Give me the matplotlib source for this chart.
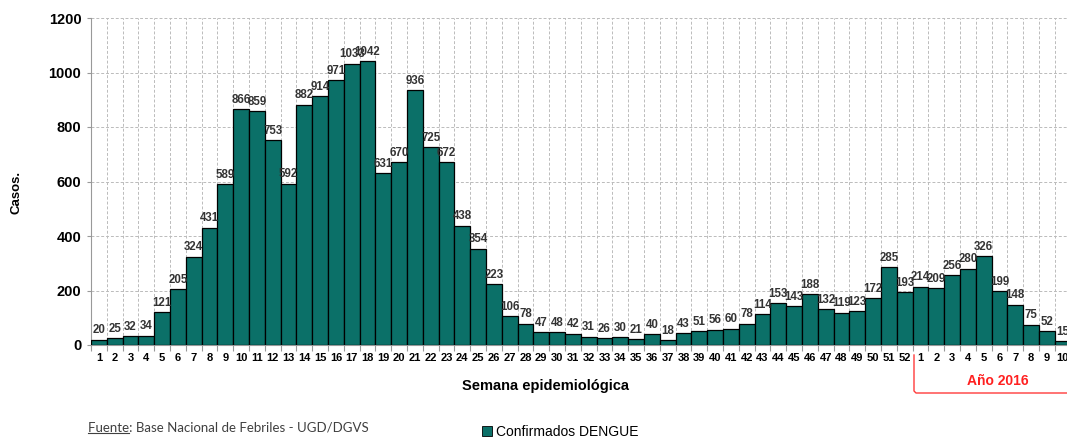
import matplotlib.pyplot as plt
from matplotlib.patches import Patch
import numpy as np

semanas = [str(i) for i in range(1, 53)] + [str(i) for i in range(1, 11)]
casos_2015 = [20, 25, 32, 34, 121, 205, 324, 431, 589, 866, 859, 753, 592, 882, 914, 971,
              1033, 1042, 631, 670, 936, 725, 672, 438, 354, 223, 106, 78, 47, 48, 42, 31,
              26, 30, 21, 40, 18, 43, 51, 56, 60, 78, 114, 153, 143, 188, 132, 119, 123,
              172, 285, 193]
casos_2016 = [214, 209, 256, 280, 326, 199, 148, 75, 52, 15]
casos = casos_2015 + casos_2016

verde = '#0b7068'
plt.rcParams['font.family'] = ['Liberation Sans', 'DejaVu Sans']

W, H = 1067, 438
fig = plt.figure(figsize=(W / 100, H / 100), dpi=100)
ax = fig.add_axes([91 / W, (H - 345) / H, 62 * 15.8 / W, (345 - 18) / H])

x = np.arange(len(casos))
ax.bar(x, casos, width=1.0, color=verde, edgecolor='black', linewidth=0.9, zorder=3)
for xi, v in zip(x, casos):
    ax.text(xi, v + 12, str(v), ha='center', va='bottom', fontsize=8.3, fontweight='bold',
            color='#333333', zorder=4)

ax.set_xlim(-0.5, len(casos) - 0.5)
ax.set_ylim(0, 1200)
ax.set_yticks(range(0, 1201, 200))
ax.set_yticklabels([str(v) for v in range(0, 1201, 200)], fontsize=10.5, fontweight='bold')

ax.set_xticks(np.arange(-0.5, len(casos), 1.0))
ax.set_xticklabels([])
ax.set_xticks(x, minor=True)
ax.set_xticklabels(semanas, minor=True, fontsize=8, fontweight='bold')
ax.tick_params(axis='x', which='major', length=4, color='#999999', direction='out')
ax.tick_params(axis='x', which='minor', length=0, pad=6)
ax.tick_params(axis='y', length=3, color='#999999', pad=4)

ax.grid(True, which='major', color='#bbbbbb', linestyle=(0, (3, 2)), linewidth=0.7, zorder=0)
for s in ['top', 'right']:
    ax.spines[s].set_visible(False)
ax.spines['left'].set_color('#999999')
ax.spines['bottom'].set_color('#999999')

fig.text(16 / W, 1 - 192 / H, 'Casos.', rotation=90, ha='center', va='center',
         fontsize=9.5, fontweight='bold')
fig.text(545 / W, 1 - 386 / H, 'Semana epidemiológica', ha='center', va='center',
         fontsize=10.5, fontweight='bold')

# corchete rojo para el año 2016
red = '#ff3b3b'
fig.add_artist(plt.Line2D([914 / W, 914 / W, 916 / W, 1.0],
                          [1 - 355 / H, 1 - 391 / H, 1 - 393 / H, 1 - 393 / H],
                          color=red, linewidth=1.0))
fig.text(998 / W, 1 - 381 / H, 'Año 2016', ha='center', va='center', fontsize=10,
         fontweight='bold', color='#ff2020')

fuente_y = 1 - 428 / H
t = fig.text(88 / W, fuente_y, 'Fuente', ha='left', va='center', fontsize=9.5,
             color='#404040', family='Lato', alpha=0)
fig.text(88 / W, fuente_y, 'Fuente: Base Nacional de Febriles - UGD/DGVS', ha='left',
         va='center', fontsize=9.5, color='#404040', family='Lato')
fig.canvas.draw()
bb = t.get_window_extent()
fig.add_artist(plt.Line2D([bb.x0 / W, bb.x1 / W], [(bb.y0 + 1) / H, (bb.y0 + 1) / H],
                          color='#404040', linewidth=0.8))

fig.legend(handles=[Patch(facecolor=verde, edgecolor='black', linewidth=0.6,
                          label='Confirmados DENGUE')],
           loc='center', bbox_to_anchor=(560 / W, 1 - 432 / H), frameon=False,
           fontsize=10, handlelength=0.7, handleheight=0.7, handletextpad=0.3)

fig.savefig('out.png', dpi=100)
